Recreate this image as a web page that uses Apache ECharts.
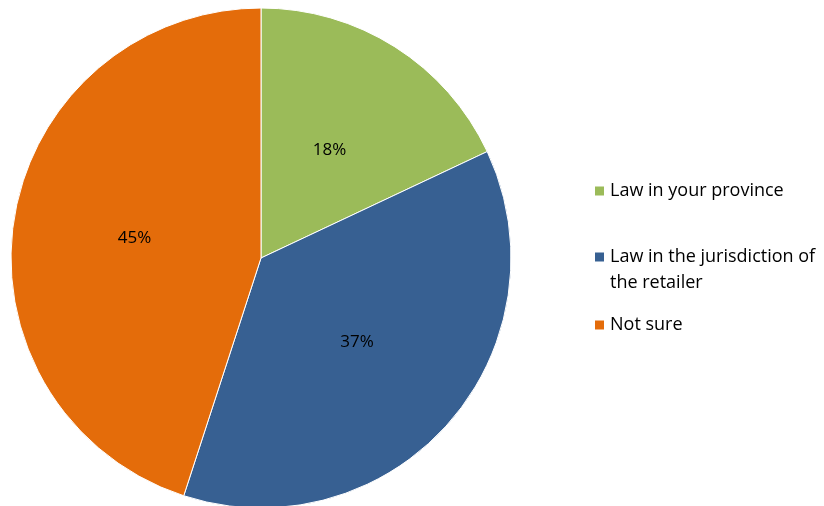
<!DOCTYPE html>
<html>
<head>
<meta charset="utf-8">
<script src="https://cdn.jsdelivr.net/npm/echarts@6/dist/echarts.min.js"></script>
<style>
  html, body { margin: 0; padding: 0; background: #fff; }
  #chart { width: 824px; height: 506px; }
</style>
</head>
<body>
<div id="chart"></div>
<script>
// answer categories and their shares (%)
const categories = ['Law in your province', 'Law in the jurisdiction of\nthe retailer', 'Not sure']
const shares = [18, 37, 45]
const colors = ['#9BBB59', '#376092', '#E46C0A']

const font = '"Open Sans", sans-serif'
const chart = echarts.init(document.getElementById('chart'))

// one legend per entry so the spacing can follow the picture
const legendTops = [173, 213, 307]
const legends = categories.map((name, i) => ({
  data: [name],
  left: 588,
  top: legendTops[i],
  icon: 'rect',
  itemWidth: 11,
  itemHeight: 11,
  itemGap: 0,
  selectedMode: false,
  // the wrapped entry gets an empty first line so its square sits on the first text line
  formatter: n => (n.indexOf('\n') >= 0 ? ' \n' + n : n),
  textStyle: { fontFamily: font, fontSize: 18, color: '#000', lineHeight: 26 }
}))

chart.setOption({
  animation: false,
  legend: legends,
  series: [{
    type: 'pie',
    center: [261, 258],
    radius: 250,
    startAngle: 90,
    clockwise: true,
    label: {
      position: 'inside',
      formatter: p => p.value + '%',
      fontFamily: font,
      fontSize: 17,
      color: '#000'
    },
    labelLine: { show: false },
    itemStyle: { borderColor: '#fff', borderWidth: 1 },
    emphasis: { disabled: true },
    data: categories.map((name, i) => ({
      name, value: shares[i], itemStyle: { color: colors[i] }
    }))
  }]
})
</script>
</body>
</html>
